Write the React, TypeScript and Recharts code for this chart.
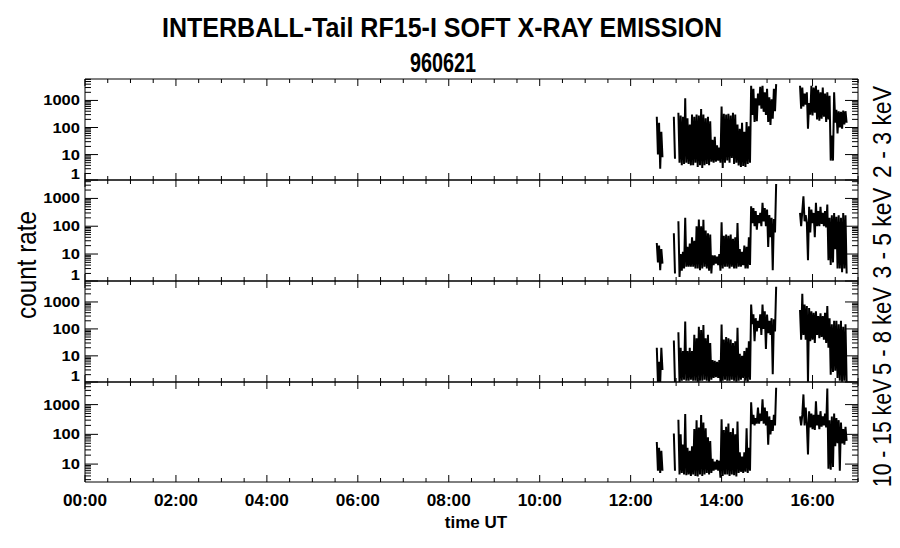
import React from 'react';
import { LineChart, Line, XAxis, YAxis } from 'recharts';

// sampling step of the rate series (hours)
const STEP = 0.025;

// each band: [segment start (hours UT), count rates...]
const band23: [number, number[]][] = [
  [12.575, [250, 10, 150, 3, 70, 8]],
  [12.95, [250, 7]],
  [13.05, [
    350, 5, 280, 4, 250, 4.5, 1200, 5, 220, 4.5,
    130, 4, 300, 4, 250, 5, 300, 3.5, 280, 4,
    480, 3.2, 300, 4, 220, 4.5, 250, 4, 170, 5.5,
    35, 5, 45, 5.5, 22, 6, 18, 5, 600, 3.2,
    320, 5, 300, 6, 320, 5, 280, 7.5, 350, 4.5,
    300, 5, 130, 4, 90, 3.5, 150, 3.8, 70, 3.5,
    160, 4.5, 110, 5,
    3500, 290, 2700, 160, 1200, 170, 1800, 650, 3200, 500,
    3500, 380, 2000, 290, 2700, 160, 1300, 123, 1100, 210, 2700, 400, 4000,
  ]],
  [15.725, [
    3500, 500, 3000, 600, 1800, 700, 2000, 90, 800, 300,
    3500, 280, 3000, 350, 3500, 200, 2500, 180, 2000, 210,
    3000, 250, 1800, 160, 2000, 200, 1500, 6, 50, 6,
    2000, 150, 450, 60, 400, 100, 380, 90, 420, 130,
    400, 150,
  ]],
];

const band35: [number, number[]][] = [
  [12.575, [25, 5, 20, 2.6, 15, 4.5]],
  [12.95, [56, 2]],
  [13.05, [
    150, 1.5, 10, 2.5, 12, 3, 200, 3.5, 18, 3.5,
    24, 3.5, 40, 3.5, 30, 3, 100, 3, 175, 2.6,
    100, 3, 170, 3.5, 70, 3, 56, 2.5, 50, 2,
    9, 4, 9, 4.5, 8, 4, 10, 2.5, 140, 3,
    45, 3.5, 50, 3.5, 45, 3, 50, 3.5, 35, 3,
    40, 3, 130, 3.5, 15, 3.5, 12, 4, 20, 3,
    18, 3, 40, 4,
    520, 130, 450, 100, 350, 75, 250, 130, 300, 100,
    700, 150, 450, 100, 400, 18, 250, 40, 200, 2.6, 180, 60, 3300,
  ]],
  [15.725, [
    300, 100, 350, 1200, 150, 250, 130, 6, 500, 60,
    400, 130, 300, 40, 700, 100, 350, 100, 500, 120,
    300, 100, 350, 90, 600, 6, 200, 4, 250, 5,
    300, 15, 220, 3, 250, 3, 200, 2.2, 300, 3,
    250, 2,
  ]],
];

const band58: [number, number[]][] = [
  [12.575, [20, 1, 6, 1, 20, 3]],
  [12.95, [37, 1]],
  [13.05, [
    75, 1, 20, 1.2, 15, 1.3, 190, 1.2, 15, 1.2,
    20, 1.3, 15, 1.2, 60, 1.2, 45, 1.1, 120, 1.2,
    90, 1.2, 140, 1.3, 45, 1.2, 60, 1.1, 30, 1.3,
    7, 1.5, 6.5, 1.6, 6, 1.5, 7, 1.1, 145, 1.2,
    40, 1.3, 50, 1.2, 45, 1.2, 40, 1.3, 30, 1.2,
    35, 1.1, 110, 1.2, 12, 1.3, 10, 1.5, 15, 1.2,
    20, 1.1, 35, 1.3,
    800, 150, 350, 35, 250, 80, 200, 110, 350, 60,
    800, 100, 450, 18, 340, 70, 200, 60, 250, 2.1, 230, 80, 3700,
  ]],
  [15.725, [
    500, 40, 2000, 60, 800, 40, 700, 1.1, 600, 35,
    450, 40, 400, 30, 450, 60, 300, 45, 380, 50,
    300, 40, 400, 30, 700, 20, 250, 2, 150, 2.5,
    200, 2.8, 200, 1.5, 150, 1.2, 200, 1.1, 120, 1.2,
    150, 1.1,
  ]],
];

const band1015: [number, number[]][] = [
  [12.575, [55, 6, 35, 5, 28, 6]],
  [12.95, [107, 6]],
  [13.05, [
    310, 4.5, 100, 5, 45, 4.5, 480, 4.2, 35, 4.5,
    28, 4, 40, 4.5, 150, 4, 300, 3.8, 170, 4.5,
    450, 4, 250, 4.5, 160, 5, 80, 4.5, 60, 5,
    15, 6, 12, 6.5, 14, 6, 13, 3.5, 320, 4,
    140, 4.5, 180, 4.5, 230, 4, 120, 4.5, 160, 4.2,
    100, 3.8, 270, 5, 25, 5.5, 18, 5, 25, 5.5,
    160, 5, 35, 6,
    1200, 220, 450, 200, 350, 230, 800, 230, 500, 280,
    1500, 230, 800, 200, 600, 45, 400, 100, 300, 130, 450, 200, 3700,
  ]],
  [15.725, [
    400, 200, 450, 2200, 200, 800, 230, 21, 600, 170,
    500, 150, 450, 140, 1300, 200, 450, 150, 600, 180,
    400, 200, 500, 170, 3500, 7, 300, 6.5, 400, 8,
    500, 40, 350, 50, 300, 6, 250, 50, 150, 45,
    180, 60,
  ]],
];

const hourTicks = [0, 0.5, 1, 1.5, 2, 2.5, 3, 3.5, 4, 4.5, 5, 5.5, 6, 6.5, 7, 7.5, 8, 8.5,
  9, 9.5, 10, 10.5, 11, 11.5, 12, 12.5, 13, 13.5, 14, 14.5, 15, 15.5, 16, 16.5, 17];
const hourMajors = [0, 2, 4, 6, 8, 10, 12, 14, 16];
const hourLabels = ['00:00', '02:00', '04:00', '06:00', '08:00', '10:00', '12:00', '14:00', '16:00'];

const bandNames = ['2 - 3 keV', '3 - 5 keV', '5 - 8 keV', '10 - 15 keV'];

const FONT = '"Liberation Sans", Arial, sans-serif';
const LEFT = 85;
const RIGHT = 858;

type Panel = {
  segs: [number, number[]][];
  domain: [number, number];
  ticks: number[];
  labels: string[];
  top: number;
  h: number;
  label: { cy: number; len: number };
};

const panels: Panel[] = [
  { segs: band23, domain: [1.15, 6200], ticks: [1.15, 10, 100, 1000], labels: ['1', '10', '100', '1000'], top: 79, h: 101, label: { cy: 132, len: 92 } },
  { segs: band35, domain: [1.07, 4600], ticks: [1.07, 10, 100, 1000], labels: ['1', '10', '100', '1000'], top: 180, h: 101, label: { cy: 233, len: 91 } },
  { segs: band58, domain: [1.07, 6000], ticks: [1.07, 10, 100, 1000], labels: ['1', '10', '100', '1000'], top: 281, h: 101, label: { cy: 331, len: 88 } },
  { segs: band1015, domain: [2.5, 5750], ticks: [10, 100, 1000], labels: ['10', '100', '1000'], top: 382, h: 100, label: { cy: 433, len: 108 } },
];

const toRows = (segs: [number, number[]][]) => {
  const rows: { t: number; v: number | null }[] = [];
  segs.forEach(([start, vals]) => {
    vals.forEach((v, k) => rows.push({ t: start + k * STEP, v }));
    rows.push({ t: start + vals.length * STEP, v: null });
  });
  return rows;
};

const minorTicks = (domain: [number, number]) => {
  const out: number[] = [];
  for (let d = 1; d <= 1000; d *= 10) {
    for (let m = 2; m <= 9; m++) {
      const v = m * d;
      if (v > domain[0] && v < domain[1]) out.push(v);
    }
  }
  return out;
};

const PanelChart = ({ p, last }: { p: Panel; last: boolean }) => {
  const rows = toRows(p.segs);
  const yTicks = [...p.ticks, ...minorTicks(p.domain)].sort((a, b) => a - b);
  const bottomH = last ? 40 : 10;

  const leftTick = (props: any) => {
    const { x, y, payload } = props;
    const idx = p.ticks.indexOf(payload.value);
    const major = idx >= 0;
    const shift = major && p.labels[idx] === '1' ? -6 : 0;
    return (
      <g>
        <line x1={x} x2={x + (major ? 13 : 6)} y1={y} y2={y} stroke="#000" />
        {major && (
          <text x={x - 5} y={y + 5 + shift} textAnchor="end" fontFamily={FONT} fontWeight="bold"
            fontSize={14} textLength={9.2 * p.labels[idx].length} lengthAdjust="spacingAndGlyphs" fill="#000">
            {p.labels[idx]}
          </text>
        )}
      </g>
    );
  };

  const rightTick = (props: any) => {
    const { x, y, payload } = props;
    const major = p.ticks.indexOf(payload.value) >= 0;
    return <line x1={x} x2={x - (major ? 13 : 6)} y1={y} y2={y} stroke="#000" />;
  };

  const topTick = (props: any) => {
    const { x, y, payload } = props;
    const major = hourMajors.includes(payload.value);
    return <line x1={x} x2={x} y1={y} y2={y + (major ? 7 : 4)} stroke="#000" />;
  };

  const bottomTick = (props: any) => {
    const { x, y, payload } = props;
    const idx = hourMajors.indexOf(payload.value);
    const major = idx >= 0;
    return (
      <g>
        <line x1={x} x2={x} y1={y} y2={y - (major ? 7 : 4)} stroke="#000" />
        {last && major && (
          <text x={x} y={y + 24} textAnchor="middle" fontFamily={FONT} fontWeight="bold" fontSize={17}
            textLength={44} lengthAdjust="spacingAndGlyphs" fill="#000">
            {hourLabels[idx]}
          </text>
        )}
      </g>
    );
  };

  return (
    <div style={{ position: 'absolute', left: 0, top: p.top - 10 }}>
      <LineChart width={900} height={p.h + 10 + bottomH} data={rows}
        margin={{ top: 0, right: 900 - RIGHT - 30, bottom: 0, left: LEFT - 60 }}>
        <XAxis xAxisId="b" dataKey="t" type="number" domain={[0, 17]} ticks={hourTicks} interval={0}
          allowDataOverflow height={bottomH} tickSize={0} tickMargin={0} tickLine={false}
          axisLine={{ stroke: '#000' }} tick={bottomTick} />
        <XAxis xAxisId="t" orientation="top" dataKey="t" type="number" domain={[0, 17]} ticks={hourTicks}
          interval={0} allowDataOverflow height={10} tickSize={0} tickMargin={0} tickLine={false}
          axisLine={{ stroke: '#000' }} tick={topTick} />
        <YAxis yAxisId="l" scale="log" type="number" domain={p.domain} ticks={yTicks} interval={0}
          allowDataOverflow width={60} tickSize={0} tickMargin={0} tickLine={false}
          axisLine={{ stroke: '#000' }} tick={leftTick} />
        <YAxis yAxisId="r" orientation="right" scale="log" type="number" domain={p.domain} ticks={yTicks}
          interval={0} allowDataOverflow width={30} tickSize={0} tickMargin={0} tickLine={false}
          axisLine={{ stroke: '#000' }} tick={rightTick} />
        <Line xAxisId="b" yAxisId="l" dataKey="v" type="linear" stroke="#000" strokeWidth={2}
          strokeLinejoin="miter" dot={false} isAnimationActive={false} connectNulls={false} />
      </LineChart>
    </div>
  );
};

export default function App() {
  return (
    <div style={{ position: 'absolute', left: 0, top: 0, width: 900, height: 548, background: '#fff' }}>
      {panels.map((p, i) => (
        <PanelChart key={i} p={p} last={i === panels.length - 1} />
      ))}
      <svg width={900} height={548} style={{ position: 'absolute', left: 0, top: 0, pointerEvents: 'none' }}>
        <text x={442} y={37} textAnchor="middle" fontFamily={FONT} fontWeight="bold" fontSize={27}
          textLength={560} lengthAdjust="spacingAndGlyphs">INTERBALL-Tail RF15-I SOFT X-RAY EMISSION</text>
        <text x={443} y={72} textAnchor="middle" fontFamily={FONT} fontWeight="bold" fontSize={27}
          textLength={66} lengthAdjust="spacingAndGlyphs">960621</text>
        <text transform="translate(36,265) rotate(-90)" textAnchor="middle" fontFamily={FONT} fontSize={28}
          textLength={108} lengthAdjust="spacingAndGlyphs">count rate</text>
        {panels.map((p, i) => (
          <text key={i} transform={`translate(891,${p.label.cy}) rotate(-90)`} textAnchor="middle"
            fontFamily={FONT} fontSize={25} textLength={p.label.len} lengthAdjust="spacingAndGlyphs">
            {bandNames[i]}
          </text>
        ))}
        <text x={476} y={528} textAnchor="middle" fontFamily={FONT} fontWeight="bold" fontSize={17}>time UT</text>
      </svg>
    </div>
  );
}
